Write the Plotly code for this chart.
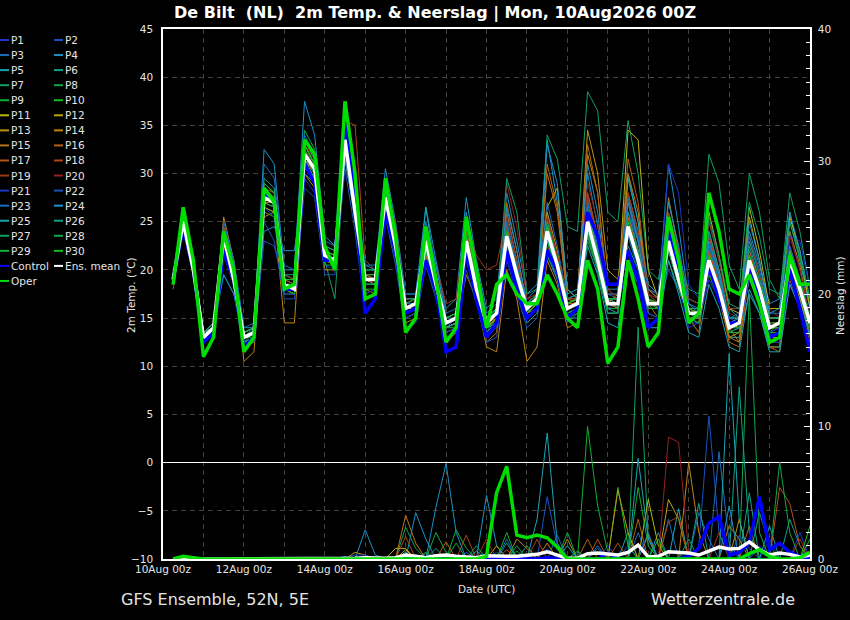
import plotly.graph_objects as go
import pandas as pd

# 6-hourly steps from 10Aug 06z to 26Aug 00z
times = pd.date_range("2026-08-10 06:00", periods=64, freq="6h")

# ---- 2m temperature (deg C), ensemble members
p01_t = [19, 24.5, 20, 13, 14, 22, 18.5, 12.5, 13, 26.5, 26, 18, 17.5, 30, 29, 21, 20.5, 32, 25, 17.5, 18, 26, 21, 15, 15.5, 21.5, 17.5, 13.5, 14, 21, 17, 13, 14, 22, 18.5, 15, 16, 22.5, 19.5, 15.5, 16, 27, 23, 17, 16, 21, 19, 15.5, 15, 22, 18.5, 14, 14.5, 19, 17, 13.5, 14, 23, 19.5, 15, 15, 24, 20, 16]
p02_t = [18.5, 25.5, 21, 13.5, 14.5, 19.5, 17.5, 12, 12.5, 23, 22.5, 18.5, 18.5, 31.5, 30, 22, 21.5, 34, 27, 19.5, 19.5, 28, 23, 16.5, 17, 24, 19, 14, 15, 22, 18.5, 15, 16, 25, 20, 16.5, 17.5, 26, 21, 16.5, 17, 24, 20, 16, 16.5, 27, 22, 17, 16, 20, 18, 15, 15, 23, 19, 15, 15, 20, 17, 13.5, 13.5, 19.5, 17, 13]
p03_t = [19, 25, 20.5, 13, 14, 24, 19.5, 13.5, 14, 29, 28, 19, 19, 33, 31, 22, 21, 33, 26.5, 19, 19, 28.5, 23, 16.5, 16.5, 24.5, 19, 15, 15.5, 24, 19, 15, 16, 26, 21, 17, 18, 25, 21, 16.5, 17, 26, 22, 17.5, 17, 26, 23, 18, 17, 25, 20, 16, 16, 22, 19, 15, 15, 22, 19, 15, 15, 22, 19, 15.5]
p04_t = [19.5, 25, 21, 13.5, 14.5, 24.5, 21, 14, 14, 32.5, 31, 20, 20, 37.5, 34, 23.5, 22.5, 35, 28, 20.5, 20, 30.5, 25, 17.5, 17.5, 26.5, 21, 16, 17, 27.5, 21, 16, 17, 28, 23, 17.5, 18.5, 33.5, 27, 17.5, 18, 30, 24.5, 18, 18, 30, 25, 18.5, 17.5, 31, 24.5, 17, 16.5, 24, 20, 16, 16, 24, 20.5, 16.5, 17, 26, 21, 16]
p05_t = [18.5, 24.5, 20, 12.5, 13.5, 22.5, 19, 12.5, 13, 27, 26.5, 18, 18, 32, 30, 21, 20.5, 32.5, 25.5, 18.5, 18.5, 27, 22, 15.5, 16, 26.5, 19.5, 14, 14.5, 24.5, 18.5, 14, 14.5, 23, 19, 15.5, 16.5, 23, 20, 15.5, 16, 25.5, 21, 16, 15.5, 29.5, 25, 17, 16.5, 22, 18.5, 15.5, 15, 20, 17, 13, 13, 17.5, 15.5, 12, 12, 20, 17, 13]
p06_t = [19, 25, 20.5, 13.5, 14.5, 23.5, 19, 13, 13.5, 28, 27.5, 19, 18.5, 32.5, 30.5, 21.5, 21, 34, 26.5, 19.5, 19, 27, 22.5, 16, 16.5, 22.5, 18, 14.5, 15, 22.5, 18, 14, 15.5, 24, 20, 16, 17, 24, 20.5, 16, 16.5, 26.5, 22, 16.5, 16.5, 22.5, 20, 16, 16, 24, 20, 16, 16, 25, 21, 16, 15, 20, 17.5, 14, 14, 20, 17.5, 14]
p07_t = [18.5, 25.5, 21, 13, 14, 23, 19, 12.5, 13.5, 27, 26.5, 18, 17.5, 31, 29.5, 21, 17, 32, 25, 18.5, 18.5, 26.5, 22, 15.5, 16, 22, 18, 14, 14.5, 23, 18, 14.5, 15.5, 25, 20, 15.5, 17.5, 34, 31.5, 24.5, 24, 38.5, 36.5, 26, 25, 35.5, 30, 20, 19, 25, 21, 18, 17.5, 32, 29, 20.5, 18, 30, 26, 19, 17, 28, 24, 18]
p08_t = [19, 26, 21, 13.5, 14, 24, 20, 13.5, 14, 28.5, 28, 19.5, 19, 34.5, 32.5, 22.5, 22, 35, 27.5, 20, 20, 29, 24, 17, 17, 24, 19.5, 15, 15.5, 24, 19, 15, 16, 23, 19, 16, 17.5, 25, 21, 16.5, 17, 27.5, 22.5, 17, 17, 23.5, 20.5, 16.5, 16, 21, 18, 15, 15, 22.5, 19, 15, 15, 23, 19.5, 15, 15, 25, 21, 16.5]
p09_t = [18.5, 25, 20, 12.5, 13.5, 22, 18.5, 12, 12.5, 26, 25.5, 17.5, 17.5, 31, 29, 21, 20.5, 32.5, 26, 18, 18, 26, 21.5, 15, 15.5, 21, 17.5, 13.5, 14, 21.5, 17, 13.5, 15, 24.5, 20.5, 16.5, 17, 22, 19.5, 15, 15.5, 23, 20, 15.5, 15.5, 25.5, 22, 16.5, 16.5, 26, 21, 16, 15.5, 19.5, 17, 13.5, 14, 19, 16.5, 13, 13.5, 22, 19, 14.5]
p10_t = [19, 25, 20.5, 12.5, 13.5, 23, 19.5, 13, 13, 28, 27.5, 18.5, 18, 33, 31, 21.5, 21, 34.5, 27, 19, 19, 29, 23.5, 16, 16.5, 21.5, 18, 14, 14.5, 25.5, 19.5, 14, 15, 22.5, 19, 15.5, 16.5, 23.5, 20, 15.5, 16, 24, 20, 15.5, 15.5, 24, 20.5, 16, 16, 23.5, 19.5, 15.5, 15, 21.5, 18, 13.5, 13.5, 20, 17.5, 13.5, 14.5, 21, 18, 14]
p11_t = [19, 24.5, 20, 13, 14, 22.5, 19, 13, 13.5, 26.5, 26, 18, 18, 31.5, 30, 21, 21, 33, 26, 19, 19, 27, 22, 16, 16.5, 23, 19, 14.5, 15, 23.5, 18.5, 15, 16, 22.5, 19.5, 16.5, 17, 26.5, 28.5, 18, 17, 25, 21, 16.5, 17.5, 34.5, 33.5, 20, 17, 24, 20, 16, 16, 26, 21.5, 16, 15.5, 26.5, 22, 16, 16, 25.5, 22, 16]
p12_t = [18.5, 25, 20.5, 13, 13.5, 23.5, 19.5, 12.5, 13, 28.5, 27.5, 18.5, 18, 32, 30.5, 21.5, 21, 34, 27, 19, 19, 28, 23, 16, 16, 22.5, 18.5, 14.5, 15, 22, 18, 14, 15, 23.5, 19.5, 15.5, 16.5, 24.5, 21, 16.5, 16.5, 26, 22, 17, 16.5, 25.5, 22, 17, 16.5, 22.5, 18.5, 15, 15, 22, 18.5, 14.5, 14, 25.5, 21, 15, 15, 21.5, 18.5, 14.5]
p13_t = [19, 25.5, 21, 13.5, 14, 24, 19.5, 13, 13.5, 27.5, 27, 18.5, 18, 32, 30, 21.5, 21, 33, 26, 19, 18.5, 27.5, 22.5, 15.5, 16, 23, 18.5, 14, 14.5, 22.5, 18, 14, 15, 23.5, 19.5, 15.5, 16.5, 26, 22, 16.5, 17, 34.5, 30, 20, 19, 28, 24, 18, 17, 22, 18.5, 15, 14.5, 20, 17, 13, 13.5, 20.5, 17.5, 13, 13, 20, 17, 13.5]
p14_t = [18.5, 24, 19.5, 12.5, 13.5, 25.5, 21, 10.5, 11.5, 25.5, 26, 14.5, 14.5, 30, 28.5, 20, 20, 31.5, 25.5, 18, 17.5, 26, 21.5, 14.5, 15, 22, 17.5, 12.5, 13.5, 21.5, 17, 12, 11.5, 20, 17, 10.5, 12, 21, 18.5, 14, 14.5, 32, 28, 17, 16, 30, 26, 17, 16, 27.5, 22, 15.5, 15, 23.5, 19.5, 14, 12.5, 20, 17.5, 12.5, 13, 22, 18.5, 14]
p15_t = [19.5, 25, 21, 13.5, 14.5, 23, 19, 13.5, 14, 27, 27, 19, 19, 31, 29.5, 22, 21.5, 33, 27, 19.5, 19, 26.5, 22, 15.5, 16, 21.5, 17.5, 13.5, 14, 19.5, 17, 12.5, 13.5, 24, 20.5, 15.5, 16, 30, 26, 17, 16.5, 28, 23.5, 16.5, 16, 27.5, 23, 16.5, 15, 23, 19.5, 15, 13.5, 21.5, 18, 13, 12.5, 21, 17.5, 12, 12, 24, 20.5, 14.5]
p16_t = [18.5, 24.5, 20, 12.5, 13.5, 23, 19, 12.5, 13, 28, 27.5, 18, 17.5, 31.5, 30, 21, 20.5, 32.5, 26, 18.5, 18.5, 27, 22, 15.5, 16, 23.5, 19, 14, 14.5, 24, 19, 14.5, 15, 27, 22, 16, 16.5, 31, 26.5, 17, 17, 33, 28, 18, 17, 31.5, 27, 17.5, 16.5, 24.5, 20, 15, 15, 20.5, 17.5, 12.5, 12, 19.5, 16.5, 12, 11.5, 19, 16, 12.5]
p17_t = [19, 25.5, 21, 13, 14, 24, 19.5, 13, 13.5, 28, 27.5, 19, 18.5, 33, 31.5, 22, 21.5, 34.5, 28, 19.5, 19, 27.5, 22.5, 16, 16.5, 24, 19.5, 14.5, 15, 23.5, 18.5, 14.5, 15.5, 26, 21, 16, 17, 24.5, 20.5, 16.5, 16.5, 24.5, 21, 16.5, 16.5, 24, 21, 16.5, 16.5, 24, 20, 16, 15.5, 22, 18.5, 14.5, 14.5, 22, 18.5, 14, 14, 21.5, 18, 14]
p18_t = [18, 25, 20.5, 13, 14, 24.5, 20, 13.5, 14, 29, 28, 19.5, 19, 33, 31, 22.5, 22, 35.5, 35, 21, 20, 29.5, 24.5, 17, 17, 23.5, 19.5, 15, 15.5, 24, 19, 15, 16, 24.5, 20, 16.5, 17.5, 25.5, 21.5, 17, 17, 28, 23, 17, 17, 25.5, 22, 17, 16.5, 22.5, 19, 15.5, 15.5, 20.5, 18, 14.5, 15, 21.5, 18.5, 14.5, 14.5, 22.5, 19, 15]
p19_t = [18, 25, 20.5, 13, 14, 23.5, 19.5, 13, 13.5, 28.5, 28, 19, 19, 32.5, 30.5, 22, 21.5, 33.5, 27.5, 19.5, 19.5, 28, 23, 16.5, 17, 24, 20.5, 16.5, 17, 25, 21.5, 20, 20.5, 25.5, 21, 17, 17.5, 25.5, 21.5, 17, 17.5, 27.5, 23, 17.5, 17.5, 28, 24, 18, 17.5, 26, 22, 17, 16.5, 23.5, 20, 16, 16, 23.5, 19.5, 16, 15, 20, 17.5, 14]
p20_t = [19, 25, 20.5, 13, 14, 22.5, 19, 13, 13.5, 27, 26.5, 18.5, 18.5, 32, 30, 21.5, 21, 33, 26.5, 19, 19, 27, 22.5, 16, 16.5, 23, 18.5, 14.5, 15, 22.5, 18, 14.5, 15.5, 29, 24.5, 17, 17, 22.5, 19.5, 15.5, 16, 29, 25, 18, 17, 27, 23, 17.5, 17, 23.5, 19.5, 16, 15.5, 25, 21, 15.5, 15, 19.5, 17, 13.5, 13.5, 23.5, 20, 15]
p21_t = [19, 24, 19.5, 12.5, 13.5, 21.5, 18.5, 12.5, 13, 26.5, 25.5, 17.5, 17.5, 29.5, 28, 20.5, 20, 32, 25, 17.5, 18, 26.5, 21.5, 15, 15.5, 22, 18, 13.5, 14, 22, 17.5, 13.5, 14.5, 22.5, 19, 15, 16, 23.5, 20, 15.5, 16, 24.5, 20.5, 15.5, 15.5, 24, 20.5, 16, 16, 31, 28, 18.5, 17, 23, 19.5, 15, 14.5, 20, 17, 13.5, 14, 23.5, 23, 18]
p22_t = [18.5, 24.5, 20, 12.5, 13.5, 22, 18.5, 12.5, 12.5, 25, 23, 17, 17, 28.5, 27.5, 19.5, 19.5, 30.5, 24, 15.5, 17, 25.5, 20.5, 14, 14.5, 20.5, 17, 13, 13.5, 20, 16.5, 12.5, 13, 21, 17.5, 14, 15, 22, 19, 14.5, 15.5, 23.5, 20, 15.5, 15.5, 23.5, 20, 15.5, 15, 22, 18.5, 14.5, 14.5, 21, 18, 14, 14, 19, 16.5, 12.5, 12.5, 18.5, 16.5, 11.5]
p23_t = [19.5, 25.5, 21, 13.5, 14.5, 25, 21, 14, 14.5, 31, 29.5, 20.5, 20, 34, 32, 23, 22.5, 34.5, 28.5, 20.5, 20.5, 29, 24, 17.5, 17.5, 25, 20.5, 15.5, 16, 25, 20, 15.5, 16.5, 25, 20.5, 16.5, 17.5, 27, 22.5, 17, 17.5, 27, 22.5, 17.5, 17.5, 27.5, 23.5, 18, 17.5, 25.5, 21, 16.5, 16, 22.5, 19, 15, 15.5, 23.5, 20, 15.5, 15.5, 22.5, 19, 15]
p24_t = [18.5, 24.5, 20.5, 13.5, 14, 19.5, 17.5, 13, 14, 24, 24.5, 22, 22, 30, 29, 21, 21, 31.5, 25.5, 18.5, 18.5, 26, 22, 15.5, 16, 24.5, 20.5, 15, 15, 26, 20.5, 15, 15.5, 26.5, 22, 16.5, 17, 33, 29, 18, 17, 31, 26, 17, 16.5, 27, 23, 16.5, 16.5, 27, 22.5, 16.5, 15.5, 23, 19.5, 14.5, 15, 25, 21, 15.5, 16, 26, 22, 17]
p25_t = [19, 25, 20, 13, 14, 23, 19, 13, 13.5, 27.5, 27, 18.5, 18, 31.5, 29.5, 21, 21, 33, 26, 18.5, 18.5, 27, 22, 15.5, 16, 22, 18, 14, 14.5, 22, 17.5, 14, 14.5, 21.5, 18, 14.5, 15.5, 21.5, 19, 15, 15, 22.5, 19.5, 14.5, 14, 21, 18.5, 14, 14, 21, 17.5, 13.5, 13, 18.5, 16, 12, 11.5, 18, 15.5, 11.5, 11.5, 18.5, 16, 12]
p26_t = [19, 25.5, 21, 13.5, 14.5, 24, 19.5, 13.5, 14, 29.5, 28.5, 19.5, 19.5, 33.5, 31.5, 22.5, 22, 34.5, 28, 20, 20, 28.5, 23.5, 17, 17, 23, 19, 15, 15.5, 23.5, 19, 15, 16, 24, 20, 16.5, 17.5, 24.5, 21, 17, 17.5, 25, 21.5, 17, 17, 26, 22, 17, 16.5, 23, 19, 15.5, 15.5, 24, 20, 15, 15, 22.5, 19, 15, 15, 21.5, 18.5, 14.5]
p27_t = [18.5, 24.5, 20, 13, 14, 23, 19, 13, 13.5, 27.5, 27, 18.5, 18, 32, 30, 21, 21, 33.5, 26.5, 19, 19, 27.5, 22.5, 16, 16.5, 23.5, 19, 14.5, 15, 23, 18.5, 14.5, 16, 29.5, 26, 17.5, 18, 25, 21, 16.5, 17, 26, 22, 17, 17, 24.5, 21, 16.5, 16.5, 23.5, 19.5, 16, 16, 25.5, 21.5, 16.5, 16, 27, 23.5, 18, 17.5, 25, 21.5, 17]
p28_t = [19, 25, 20.5, 13, 14, 23.5, 19.5, 13, 13.5, 28, 27.5, 18.5, 18.5, 32.5, 31, 21.5, 21, 34, 27, 19, 19, 28, 23, 16, 16.5, 22.5, 18.5, 14.5, 15, 22.5, 18, 14.5, 15.5, 23, 19, 15.5, 16.5, 23.5, 20, 16, 16.5, 24, 20.5, 16, 16, 24, 20.5, 16, 16, 22.5, 19, 15.5, 15, 21, 18, 14, 14, 21.5, 18, 14, 14, 20.5, 17.5, 13.5]
p29_t = [18.5, 25, 20, 12.5, 13.5, 23, 19, 12.5, 13, 27, 26.5, 18, 17.5, 31, 29.5, 20.5, 20.5, 33, 26, 18.5, 18.5, 27, 22, 15.5, 16, 22, 18, 14, 14, 21.5, 17.5, 13.5, 14.5, 22, 18.5, 15, 16, 23, 19.5, 15.5, 16, 23.5, 20, 15.5, 15.5, 25, 21.5, 16, 16, 22, 18.5, 15, 14.5, 20.5, 17.5, 13.5, 13.5, 20.5, 17.5, 13.5, 13.5, 21.5, 18, 14]
p30_t = [19, 25.5, 21, 13, 14, 24, 20, 13.5, 14, 29, 28, 19, 19, 33, 31, 22, 21.5, 34, 27.5, 19.5, 19.5, 28.5, 23.5, 16.5, 17, 23, 19, 15, 15.5, 23.5, 19, 15, 16, 24, 20, 16, 17, 24.5, 21, 16.5, 17, 25, 21.5, 17, 17, 25, 21.5, 17, 16.5, 23.5, 19.5, 16, 15.5, 21.5, 18, 14.5, 14.5, 21.5, 18.5, 14.5, 14.5, 22, 19, 15]
ctrl_t = [19, 24.5, 20, 12.5, 13.5, 22, 19, 12, 13, 28, 27, 18, 18, 31, 29, 21, 21, 35, 27, 15.5, 17, 26, 22, 15.5, 16, 21, 18, 11.5, 12, 22, 17, 13, 14.5, 22, 18, 15, 16, 22, 20, 15, 16, 26, 23.5, 18.5, 18.5, 22, 19, 14, 15, 24, 20, 14.5, 15.5, 20.5, 17, 14.5, 14.5, 20.5, 17.5, 13, 13.5, 20, 16, 11.5]
oper_t = [18.5, 26.5, 21, 11, 13, 24, 20, 11.5, 13, 28.5, 27, 18, 18.5, 33.5, 32, 22.5, 20, 37.5, 30, 17, 17.5, 29.5, 23.5, 13.5, 15, 24.5, 19, 12.5, 14, 25.5, 20, 14, 18.5, 19.5, 17.5, 16.5, 16.5, 19.5, 17.5, 15, 14, 21, 18, 10.3, 12, 21, 17, 12, 13.5, 25.5, 21, 14.5, 15.5, 28, 24, 18, 17.5, 19.5, 16.5, 12.5, 13, 21.5, 18.5, 18.5]
mean_t = [19, 25, 20, 13, 14, 23.5, 19, 13, 13.5, 27.5, 27, 18.5, 18, 32, 30.5, 21.5, 21, 33.5, 26, 19, 19, 27.5, 22.5, 16, 16.5, 23, 18.5, 14.5, 15, 23, 18, 14.5, 15.5, 23.5, 19.5, 16, 17, 24, 20.5, 16, 16.5, 25, 21, 16.5, 16.5, 24.5, 21, 16.5, 16.5, 23, 19, 15.5, 15.5, 21, 18, 14, 14.5, 21, 18, 14, 14.5, 21, 18, 14.5]

# ---- precipitation (mm per 6 h)
p01_rr = [0, 0, 0, 0,  0, 0, 0, 0,  0, 0, 0, 0,  0, 0, 0, 0,  0, 0, 0, 0,  0, 0, 0, 0,  0, 0.4, 0, 0,  0, 0, 0, 0,
          0, 0, 0, 0.3,  0, 0, 0, 0,  0.5, 0, 0, 1.0,  0, 0, 0, 0,  0, 0, 0, 0.8,  0, 0, 0, 0,  0, 0, 0, 1.5,  0, 0, 2.0, 0]
p02_rr = [0, 0, 0, 0,  0, 0, 0, 0,  0, 0, 0, 0,  0, 0, 0, 0,  0, 0, 0, 0,  0, 0, 0, 0,  0, 0, 0, 0,  0, 0.5, 0, 0,
          0, 0, 0, 0,  0, 0, 0, 0,  0, 0, 0, 0,  0, 1.0, 0, 0,  0, 0, 0, 0,  1.0, 10.8, 2.0, 0,  0, 0, 0, 0,  0, 0, 0, 0]
p03_rr = [0, 0, 0, 0,  0, 0, 0, 0,  0, 0, 0, 0,  0, 0, 0, 0,  0, 0, 0, 0,  0, 0, 0, 0,  0, 0, 0, 0,  0, 0, 0, 0,
          0, 0, 0, 0,  0, 0, 0, 0,  0, 0, 1.0, 0,  0, 0, 2.0, 0,  0, 3.0, 0, 0,  0, 0, 8.1, 1.2,  0, 0, 0, 0,  0, 0, 0, 0]
p04_rr = [0, 0, 0, 0,  0, 0, 0, 0,  0, 0, 0, 0,  0, 0, 0, 0,  0, 0, 0, 0,  0, 0, 0, 0,  3.5, 1.5, 0, 0,  0, 0, 0, 4.8,
          1.0, 0, 0, 0,  0, 0, 0, 0,  0, 0, 0, 0,  0, 0, 0, 0,  2.0, 0, 0, 0,  0, 0, 0, 0,  0, 0, 0, 2.5,  0, 0, 0, 0]
p05_rr = [0, 0, 0, 0,  0, 0, 0, 0,  0, 0, 0, 0,  0, 0, 0, 0,  0, 0, 0, 0,  0, 0, 0, 0.5,  0, 0, 0, 0,  0, 0, 0.6, 0,
          0, 0, 0, 0,  3.0, 9.5, 1.2, 0,  0, 0, 0, 0,  0, 2.0, 0, 0,  0, 0, 3.8, 0,  0, 0, 0, 0,  0, 0, 0, 0,  0, 0, 0, 0]
p06_rr = [0, 0, 0, 0,  0, 0, 0, 0,  0, 0, 0, 0,  0, 0, 0, 0,  0, 0, 0, 0,  0, 0, 0, 0,  0, 0, 0.8, 0,  0, 0, 0, 0,
          0, 1.2, 0, 0,  0, 0, 0, 0,  0, 0, 0, 0,  0, 0, 0, 0,  0, 0, 0, 0,  0, 0, 0, 0,  0, 5.0, 0, 0,  0, 3.0, 1.0, 0]
p07_rr = [0, 0, 0, 0,  0, 0, 0, 0,  0, 0, 0, 0,  0, 0, 0, 0,  0, 0, 0, 0,  0, 0, 0, 2.4,  0.8, 0, 0, 0,  0, 0, 0, 0,
          0, 0, 0.6, 0,  0, 0, 0, 0,  0, 0, 0, 0,  0, 0, 17.5, 1.5,  0, 0, 0, 0,  0, 0, 0, 0,  0, 0, 0, 0,  0, 0, 0, 0]
p08_rr = [0, 0, 0, 0,  0, 0, 0, 0,  0, 0, 0, 0,  0, 0, 0, 0,  0, 0, 0, 0,  0, 0, 0, 0,  0, 0, 2.0, 0.5,  0, 0, 0, 0,
          0, 0, 0, 0,  0, 0, 0, 0,  0, 0, 0, 0,  0, 0, 0, 0,  0, 0, 0, 0,  0, 0, 0, 0,  0, 20.0, 2.0, 0,  0, 0, 0, 0]
p09_rr = [0, 0.2, 0.1, 0,  0, 0, 0, 0,  0, 0, 0, 0,  0, 0, 0, 0,  0, 0, 0, 0,  0, 0, 0, 0,  0, 0, 0, 0,  2.2, 0.8, 0, 0,
          0, 0, 0, 0,  0, 0, 0, 0,  0, 10.0, 4.0, 0.5,  0, 0, 0, 0,  0, 0, 0, 0,  0, 0, 0, 0,  0, 0, 0, 0,  0, 0, 0, 0]
p10_rr = [0, 0.2, 0, 0,  0, 0, 0, 0,  0, 0, 0, 0,  0, 0, 0, 0,  0, 0, 0, 0,  0, 0, 0, 0,  0, 0.5, 0, 0,  0, 0, 0, 0,
          0, 0, 0, 0,  0, 0, 0, 0,  0, 0, 0, 0,  5.4, 1.0, 0, 0,  0, 0, 0, 0,  0, 0, 0, 0,  0, 0, 0, 0,  0, 0, 0, 1.5]
p11_rr = [0, 0, 0, 0,  0, 0, 0, 0,  0, 0, 0, 0,  0, 0, 0, 0,  0, 0, 0, 0,  0, 0, 0.8, 0.8,  0, 0, 0, 0,  0, 0, 0, 0,
          0, 0, 0, 0,  0, 0, 0, 0,  0, 0, 0, 0,  0, 0, 0, 4.5,  1.0, 0, 0, 0,  0, 0, 0, 0,  0, 0, 0, 0,  0, 0, 0, 0]
p12_rr = [0, 0, 0, 0,  0, 0, 0, 0,  0, 0, 0, 0,  0, 0, 0, 0,  0, 0, 0.5, 0.3,  0, 0, 0, 0.7,  0, 0, 0, 0,  0, 0, 0, 0,
          1.0, 0, 0, 0,  0, 0, 0, 0,  0, 0, 0, 0,  0, 0, 0, 0,  0, 4.5, 3.0, 0,  0, 0, 0, 0,  0, 0, 0, 0,  0, 0, 0, 0]
p13_rr = [0, 0, 0, 0,  0, 0, 0, 0,  0, 0, 0, 0,  0, 0, 0, 0,  0, 0, 0, 0,  0, 0, 0, 0,  0, 0, 0, 0,  0, 0, 0, 0,
          0, 0, 0, 0,  0, 0, 0, 1.5,  0, 0, 0, 0,  5.2, 2.0, 0, 0,  0, 0, 0, 0,  0, 0, 0, 0,  3.0, 0, 0, 0,  0, 0, 0, 0]
p14_rr = [0, 0, 0, 0,  0, 0, 0, 0,  0, 0, 0, 0,  0, 0, 0, 0,  0, 0, 0, 0,  0, 0, 0, 0,  0, 0, 0, 0,  0, 0, 0, 0,
          0, 0, 1.5, 0.8,  0, 1.2, 0, 0,  0, 0, 0, 0,  0, 0, 0, 1.8,  0, 0, 0, 7.3,  2.0, 0, 0, 0,  0, 0, 0, 0,  0, 0, 0, 0]
p15_rr = [0, 0, 0, 0,  0, 0, 0, 0,  0, 0, 0, 0,  0, 0, 0, 0,  0, 0, 0, 0,  0, 0, 0, 3.3,  1.2, 0, 0, 0,  0, 0, 0, 0,
          0, 0, 0, 0,  0, 0, 0, 0,  0, 0, 0, 0,  0, 0, 0, 0,  0, 0, 0, 0,  0, 0, 0, 2.5,  1.5, 0, 0, 0,  0, 0, 0, 0]
p16_rr = [0, 0, 0, 0,  0, 0, 0, 0,  0, 0, 0, 0,  0, 0, 0, 0,  0, 0, 0, 0,  0, 0, 0, 0,  0, 0, 0, 1.3,  0, 0, 0, 0,
          0, 0, 0, 0,  0, 0, 0, 0,  0, 1.5, 0, 0,  0, 0, 3.0, 0,  0, 0, 0, 0,  0, 0, 0, 0,  0, 2.5, 0, 0,  0, 0, 0, 0]
p17_rr = [0, 0, 0, 0,  0, 0, 0, 0,  0, 0, 0, 0,  0, 0, 0, 0,  0, 0, 0, 0,  0, 0, 0, 0,  0, 0, 0, 0,  0, 0, 0, 0,
          0, 0.7, 0, 0,  0, 0, 0, 0,  0, 0, 1.5, 0,  1.2, 0, 0, 0,  0, 0, 0, 0,  0, 0, 0, 0,  0, 0, 0, 0,  5.4, 4.2, 1.0, 0]
p18_rr = [0, 0, 0, 0,  0, 0, 0, 0,  0, 0, 0, 0,  0, 0, 0, 0,  0, 0, 0, 0,  0, 0, 0, 1.7,  0, 0, 0, 0,  0, 1.8, 0, 0,
          0, 0, 0, 0,  1.5, 0, 0, 0,  0, 0, 0, 0,  0, 0, 0, 0,  0, 2.8, 3.2, 0,  0, 0, 0, 0,  0, 0, 0, 0,  0, 0, 0, 0]
p19_rr = [0, 0, 0, 0,  0, 0, 0, 0,  0, 0, 0, 0,  0, 0, 0, 0,  0, 0, 0, 0,  0, 0, 0, 0,  0, 0, 0, 0,  0, 0, 0, 1.5,
          0, 0, 0, 0,  0, 0, 0, 0,  0, 0, 0, 0,  0, 0, 0, 0,  0, 0, 0, 0,  0, 0, 2.0, 0,  0, 0, 0, 0,  0, 0, 1.5, 0]
p20_rr = [0, 0, 0, 0,  0, 0, 0, 0,  0, 0, 0, 0,  0, 0, 0, 0,  0, 0, 0, 0,  0, 0, 0, 0,  0, 0, 0, 0.3,  0, 0, 0, 0,
          0, 0, 0, 0,  0, 0, 0, 0,  0, 0, 0, 0,  0, 0, 0, 0,  0, 9.2, 8.8, 0.5,  0, 0, 0, 0,  0, 0, 0, 0,  0, 0, 0, 0]
p21_rr = [0, 0, 0, 0,  0, 0, 0, 0,  0, 0, 0, 0,  0, 0, 0, 0,  0, 0, 0.3, 0.3,  0, 0, 0, 0,  0, 0, 0, 0,  0, 0, 0, 0,
          0.5, 0, 0, 0,  0, 0.8, 0, 0,  0, 0, 0, 0,  0, 0, 0, 0,  0, 0, 0, 0,  0, 0, 0, 0,  0, 0, 1.0, 0,  0, 0, 0, 0]
p22_rr = [0, 0, 0, 0,  0, 0, 0, 0,  0, 0, 0, 0,  0, 0, 0, 0,  0, 0, 0, 0,  0, 0, 0, 0,  0, 0, 0, 0,  0, 0, 0, 0,
          0, 0, 0, 0,  0, 4.7, 1.0, 0,  0, 0, 0, 0,  0, 0, 0, 0,  0, 0, 0, 0,  0, 0, 0, 0,  1.8, 0.8, 0, 0,  0, 0, 0, 0]
p23_rr = [0, 0, 0, 0,  0, 0, 0, 0,  0, 0, 0, 0,  0, 0, 0, 0,  0, 0, 0, 0,  0, 0, 0, 0,  0, 0, 0, 0,  0, 0, 0, 0,
          0, 1.5, 0, 0,  0, 0, 1.8, 0,  0, 0, 0.8, 0,  0, 0, 0, 2.0,  0, 0, 0, 0,  3.5, 1.5, 0, 0,  0, 0, 0, 0,  0, 0, 0, 0]
p24_rr = [0, 0, 0, 0,  0, 0, 0, 0,  0, 0, 0, 0,  0, 0, 0, 0,  0, 0.2, 0, 2.2,  0.3, 0, 0, 0,  0, 0, 3.9, 7.2,  2.0, 0, 0, 0,
          0, 0, 0, 0,  0, 0, 0, 0,  0, 0, 0, 0,  0, 0, 0, 0,  0, 0, 0, 0,  0, 0, 0, 4.0,  0, 0, 0, 0,  0, 0, 0, 0]
p25_rr = [0, 0, 0, 0,  0, 0, 0, 0,  0, 0, 0, 0,  0, 0, 0, 0,  0, 0, 0, 0,  0, 0, 0, 0,  0, 0, 0, 0,  0, 0, 0, 0,
          0, 0, 0, 0,  0, 0, 0, 1.0,  0, 0, 0, 0,  0, 0, 7.6, 1.5,  0, 0, 0, 0,  0, 0, 0, 15.5,  3.0, 0, 0, 0,  0, 0, 0, 0]
p26_rr = [0, 0, 0, 0,  0, 0, 0, 0,  0, 0, 0, 0,  0, 0, 0, 0,  0, 0, 0, 0,  0, 0, 0, 0,  0, 0, 0, 0,  0, 0, 0, 0,
          0, 0, 0, 1.0,  0, 0, 0, 0,  0, 0, 0, 0,  0, 0, 0, 0,  0, 0, 0, 0,  4.2, 0, 0, 0,  13.0, 2.0, 0, 0,  0, 0, 0, 0]
p27_rr = [0, 0, 0, 0,  0, 0, 0, 0,  0, 0, 0, 0,  0, 0, 0, 0,  0, 0, 0, 0,  0, 0, 0, 0,  0, 0, 0, 0,  0, 0, 1.0, 0,
          0, 0, 0, 0,  0, 0, 0, 0,  0, 0, 0, 0,  0, 0, 0, 0,  0, 0, 0, 1.5,  0, 0, 0, 0,  0, 0, 3.5, 1.0,  0, 0, 0, 0]
p28_rr = [0, 0, 0, 0,  0, 0, 0, 0,  0, 0, 0, 0,  0, 0, 0, 0,  0, 0, 0, 0,  0, 0, 0, 0,  0, 0, 0, 0,  1.2, 0, 0, 0,
          0, 0, 1.0, 0,  0, 0, 0, 2.0,  0, 0, 0, 0,  0, 0, 0, 0,  0, 0, 0, 0,  0, 0, 0, 0,  0, 0, 0, 0,  7.3, 2.0, 0, 0]
p29_rr = [0, 0, 0, 0,  0, 0, 0, 0,  0, 0, 0, 0,  0, 0, 0, 0,  0, 0, 0, 0,  0, 0, 0, 0,  0, 0, 0, 0,  0, 0, 0, 0,
          0, 2.0, 0, 0,  0, 0, 0, 0,  0, 0, 0, 0,  0, 0, 5.4, 1.0,  0, 0, 0, 0,  0, 0, 0, 0,  0, 0, 0, 0,  0, 0, 0, 0]
p30_rr = [0, 0, 0, 0,  0, 0, 0, 0,  0, 0, 0, 0,  0, 0, 0, 0,  0, 0, 0, 0,  0, 0, 0, 0,  0, 0, 0, 0,  0, 0, 0, 0,
          0, 0, 0, 0,  0, 0, 0, 0,  0.6, 0, 0, 0,  0, 0, 0, 0,  1.5, 0, 0, 0,  0, 0, 0, 0,  0, 0, 0, 0,  0, 0, 0, 2.5]
ctrl_rr = [0, 0, 0, 0,  0, 0, 0, 0,  0, 0, 0, 0,  0, 0, 0, 0,  0, 0, 0, 0,  0, 0, 0, 0,  0, 0, 0, 0,  0, 0, 0, 0,
           0, 0, 0, 0,  0, 0.1, 0, 0,  0, 0, 0, 0.45,  0, 0, 0, 0,  0, 0, 0, 0.2,  0.8, 2.7, 3.2, 0.3,  0.5, 1.2, 4.7, 0.7,  1.2, 0.5, 0.2, 0.1]
oper_rr = [0, 0.2, 0.1, 0,  0, 0, 0, 0,  0, 0, 0, 0,  0, 0, 0, 0,  0, 0, 0, 0,  0, 0, 0, 0,  0, 0, 0, 0,  0, 0, 0, 0.2,
           5.0, 7.0, 1.8, 1.6,  1.8, 1.6, 0.9, 0,  0, 0, 0, 0,  0, 0, 0, 0,  0, 0, 0, 0,  0, 0, 0, 0,  0, 0.4, 0.7, 0.2,  0, 0, 0.1, 0.5]
mean_rr = [0, 0.02, 0.01, 0,  0, 0, 0, 0,  0, 0, 0, 0,  0, 0, 0, 0,  0, 0, 0.05, 0.1,  0.05, 0.05, 0.1, 0.3,  0.2, 0.1, 0.25, 0.3,  0.2, 0.15, 0.1, 0.25,
           0.2, 0.2, 0.2, 0.3,  0.35, 0.55, 0.3, 0.05,  0.05, 0.4, 0.45, 0.35,  0.3, 0.5, 1.05, 0.15,  0.2, 0.55, 0.5, 0.45,  0.3, 0.6, 0.9, 0.75,  0.8, 1.3, 0.7, 0.3,  0.45, 0.35, 0.15, 0.3]

member_t = [p01_t, p02_t, p03_t, p04_t, p05_t, p06_t, p07_t, p08_t, p09_t, p10_t,
            p11_t, p12_t, p13_t, p14_t, p15_t, p16_t, p17_t, p18_t, p19_t, p20_t,
            p21_t, p22_t, p23_t, p24_t, p25_t, p26_t, p27_t, p28_t, p29_t, p30_t]
member_rr = [p01_rr, p02_rr, p03_rr, p04_rr, p05_rr, p06_rr, p07_rr, p08_rr, p09_rr, p10_rr,
             p11_rr, p12_rr, p13_rr, p14_rr, p15_rr, p16_rr, p17_rr, p18_rr, p19_rr, p20_rr,
             p21_rr, p22_rr, p23_rr, p24_rr, p25_rr, p26_rr, p27_rr, p28_rr, p29_rr, p30_rr]
member_names = ["P%d" % k for k in range(1, 31)]

# P1..P20 colours, P21..P30 repeat P1..P10
base_colors = ["#1c36c8", "#1c52bc", "#1a6ec0", "#1a92c8", "#18a6b4", "#10a286", "#10a062", "#10a84a", "#10b032", "#12c020",
               "#b8b810", "#bca410", "#bc9410", "#c08410", "#b87212", "#b46212", "#b05414", "#ac4418", "#a03418", "#942222"]
member_colors = base_colors + base_colors[:10]

W, H = 850, 620
X0, X1, Y0, Y1 = 163, 810, 29, 559          # plot box in pixels
ML, MR, MT, MB = X0, W - X1, Y0, H - Y1
TXT = "#e4e4e4"
FONT = "DejaVu Sans"


def px(x):
    return (x - X0) / (X1 - X0)


def py(y):
    return (Y1 - y) / (Y1 - Y0)


fig = go.Figure()

for rr, col in zip(member_rr, member_colors):
    fig.add_trace(go.Scatter(x=times, y=rr, yaxis="y2", mode="lines",
                             line=dict(color=col, width=1), hoverinfo="skip"))
for t, col in zip(member_t, member_colors):
    fig.add_trace(go.Scatter(x=times, y=t, mode="lines",
                             line=dict(color=col, width=1), hoverinfo="skip"))

for t, rr, col in [(ctrl_t, ctrl_rr, "#0000ff"), (mean_t, mean_rr, "#ffffff"), (oper_t, oper_rr, "#00dd00")]:
    fig.add_trace(go.Scatter(x=times, y=rr, yaxis="y2", mode="lines",
                             line=dict(color=col, width=3.5), hoverinfo="skip"))
    fig.add_trace(go.Scatter(x=times, y=t, mode="lines",
                             line=dict(color=col, width=3.5), hoverinfo="skip"))

# two-column legend on the left
legend_items = list(zip(member_names, member_colors)) + [("Control", "#0000ff"), ("Ens. mean", "#ffffff"), ("Oper", "#00dd00")]
annotations = []
shapes = []
for k, (name, col) in enumerate(legend_items):
    row, c = divmod(k, 2)
    yy = 40 + row * 15.06
    x0 = 0 if c == 0 else 54
    shapes.append(dict(type="line", xref="paper", yref="paper",
                       x0=px(x0), x1=px(x0 + 9), y0=py(yy), y1=py(yy),
                       line=dict(color=col, width=2)))
    annotations.append(dict(text=name, xref="paper", yref="paper", x=px(x0 + 9), y=py(yy),
                            xanchor="left", yanchor="middle", showarrow=False,
                            font=dict(size=10.5, color=TXT, family=FONT)))

annotations += [
    dict(text="2m Temp. (°C)", xref="paper", yref="paper", x=px(131), y=py(295), textangle=-90,
         showarrow=False, xanchor="center", yanchor="middle", font=dict(size=10.5, color=TXT, family=FONT)),
    dict(text="Neerslag (mm)", xref="paper", yref="paper", x=px(840), y=py(295), textangle=-90,
         showarrow=False, xanchor="center", yanchor="middle", font=dict(size=10.5, color=TXT, family=FONT)),
    dict(text="Date (UTC)", xref="paper", yref="paper", x=px(486), y=py(589),
         showarrow=False, xanchor="center", yanchor="middle", font=dict(size=10.5, color=TXT, family=FONT)),
    dict(text="GFS Ensemble, 52N, 5E", xref="paper", yref="paper", x=px(119), y=py(599),
         showarrow=False, xanchor="left", yanchor="middle", font=dict(size=16, color=TXT, family=FONT)),
    dict(text="Wetterzentrale.de", xref="paper", yref="paper", x=px(649), y=py(599),
         showarrow=False, xanchor="left", yanchor="middle", font=dict(size=16, color=TXT, family=FONT)),
]

grid = "#44443a"
fig.update_layout(
    width=W, height=H,
    margin=dict(l=ML, r=MR, t=MT, b=MB, pad=0),
    paper_bgcolor="#000000", plot_bgcolor="#000000",
    showlegend=False,
    font=dict(family=FONT, color=TXT, size=10.5),
    title=dict(text="<b>De Bilt\u00a0\u00a0(NL)\u00a0\u00a02m Temp. & Neerslag | Mon, 10Aug2026 00Z</b>",
               x=435 / W, xanchor="center", y=1 - 12 / H, yanchor="middle",
               font=dict(size=16, color="#ffffff", family=FONT)),
    xaxis=dict(type="date", range=["2026-08-10 00:00", "2026-08-26 00:00"],
               tick0="2026-08-10", dtick=2 * 86400000, tickformat="%d%b %Hz",
               showgrid=True, gridcolor=grid, griddash="5px,4px", gridwidth=1,
               minor=dict(dtick=86400000, showgrid=True, gridcolor=grid, griddash="5px,4px", gridwidth=1),
               showline=True, linecolor="#ffffff", linewidth=1.5, mirror=True,
               ticks="", zeroline=False, tickfont=dict(size=10.5, color=TXT)),
    yaxis=dict(range=[-10, 45], dtick=5, tick0=0,
               showgrid=True, gridcolor=grid, griddash="5px,4px", gridwidth=1,
               zeroline=True, zerolinecolor="#ffffff", zerolinewidth=1.3,
               showline=True, linecolor="#ffffff", linewidth=1.5, mirror=True,
               ticks="", ticklabelstandoff=6, tickfont=dict(size=10.5, color=TXT)),
    yaxis2=dict(range=[0, 40], overlaying="y", side="right", dtick=10, tick0=0,
                showgrid=False, zeroline=False,
                showline=True, linecolor="#ffffff", linewidth=1.5,
                ticks="inside", ticklen=6, tickcolor="#ffffff", tickwidth=1,
                minor=dict(dtick=1, ticks="inside", ticklen=4, tickcolor="#ffffff", tickwidth=1),
                ticklabelstandoff=4, tickfont=dict(size=10.5, color=TXT)),
    annotations=annotations,
    shapes=shapes,
)

# drop the default page margin so the figure sits at the window's top-left corner
fig.write_html("out.html", config={"displayModeBar": False},
               post_script="document.body.style.margin='0';document.body.style.background='#000';")
